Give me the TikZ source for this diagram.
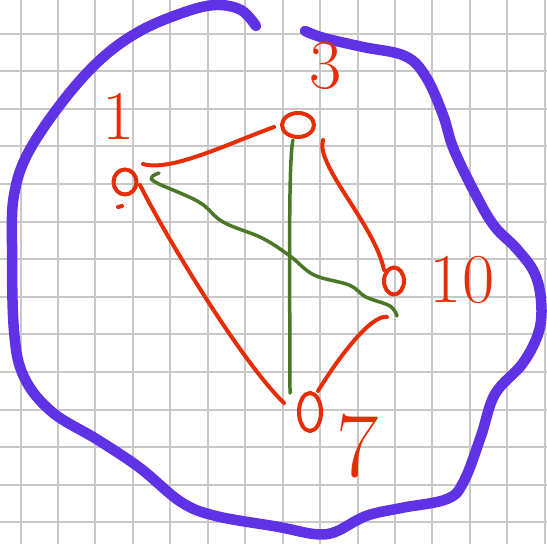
\documentclass[tikz,border=0pt]{standalone}
\usetikzlibrary{shapes.geometric}
\definecolor{penred}{RGB}{230,45,5}
\definecolor{pengreen}{RGB}{75,120,40}
\definecolor{penblue}{RGB}{95,50,230}
\definecolor{gridgray}{RGB}{200,200,200}

\begin{document}
\begin{tikzpicture}[x=1pt, y=-1pt,
  vert/.style={ellipse, draw=penred, line width=4pt, inner sep=0pt},
  tag/.style={text=penred, font=\fontsize{70}{70}\selectfont, inner sep=0pt},
  redline/.style={draw=penred, line width=4pt, line cap=round},
  greenline/.style={draw=pengreen, line width=3.5pt, line cap=round}]
  \useasboundingbox (0,0) rectangle (547,544);
  \fill[white] (0,0) rectangle (547,544);
  % squared paper
  \foreach \i in {0,...,14} {\draw[gridgray, line width=2pt] ({20.5+37.45*\i},0) -- ({20.5+37.45*\i},544);}
  \foreach \j in {0,...,13} {\draw[gridgray, line width=2pt] (0,{33.5+37.6*\j}) -- (547,{33.5+37.6*\j});}
  % outer loop
  \draw[penblue, line width=10.5pt, line cap=round] plot[smooth, tension=0.6] coordinates {
    (256,26) (241,10) (216,5) (185,12) (140,31) (101,59) (63,101) (28,153) (14,195)
    (12,244) (14,331) (24,377) (52,412) (98,440) (140,468) (181,502) (216,516)
    (279,527) (314,534) (335,532) (366,516) (401,508) (447,499) (464,481) (481,436)
    (495,394) (523,363) (539,331) (541,300) (534,272) (516,248) (495,227) (478,199)
    (454,150) (443,115) (426,77) (405,56) (363,47) (324,38) (305,31)};
  % vertices
  \node[vert, minimum width=23pt, minimum height=25pt] (v1) at (125,182) {};
  \node[vert, minimum width=32pt, minimum height=24pt] (v3) at (298,125) {};
  \node[vert, minimum width=20pt, minimum height=27pt] (v10) at (394,281) {};
  \node[vert, minimum width=22pt, minimum height=38pt] (v7) at (310,412) {};
  \draw[redline] (118,207) -- (122,206);
  % labels
  \node[tag] (l1) at (119,116) {1};
  \node[tag] (l3) at (326,66) {3};
  \node[tag] (l10) at (462,280) {10};
  \node[tag, font=\fontsize{92}{92}\selectfont] (l7) at (358,446) {7};
  % red edges
  \draw[redline] ([shift={(18,-18)}]v1.center) .. controls (170,172) and (225,145) .. ([shift={(-24,2)}]v3.center);
  \draw[redline] ([shift={(15,3)}]v1.center) .. controls (165,235) and (240,360) .. ([shift={(-26,-9)}]v7.center);
  \draw[redline] ([shift={(25,15)}]v3.center) .. controls (315,165) and (375,225) .. ([shift={(-10,-11)}]v10.center);
  \draw[redline] ([shift={(-7,36)}]v10.center) .. controls (372,314) and (340,355) .. ([shift={(8,-21)}]v7.center);
  % green edges
  \draw[greenline] ([shift={(-5,15)}]v3.center) .. controls (288,160) and (290,300) .. ([shift={(-20,-19)}]v7.center);
  \draw[greenline] plot[smooth, tension=0.6] coordinates {([shift={(34,-9)}]v1.center) (152,177) (157,183)
    (199,202) (223,222) (262,238) (290,256) (314,275) (349,285) (366,297) (390,306) ([shift={(3,35)}]v10.center)};
\end{tikzpicture}
\end{document}
